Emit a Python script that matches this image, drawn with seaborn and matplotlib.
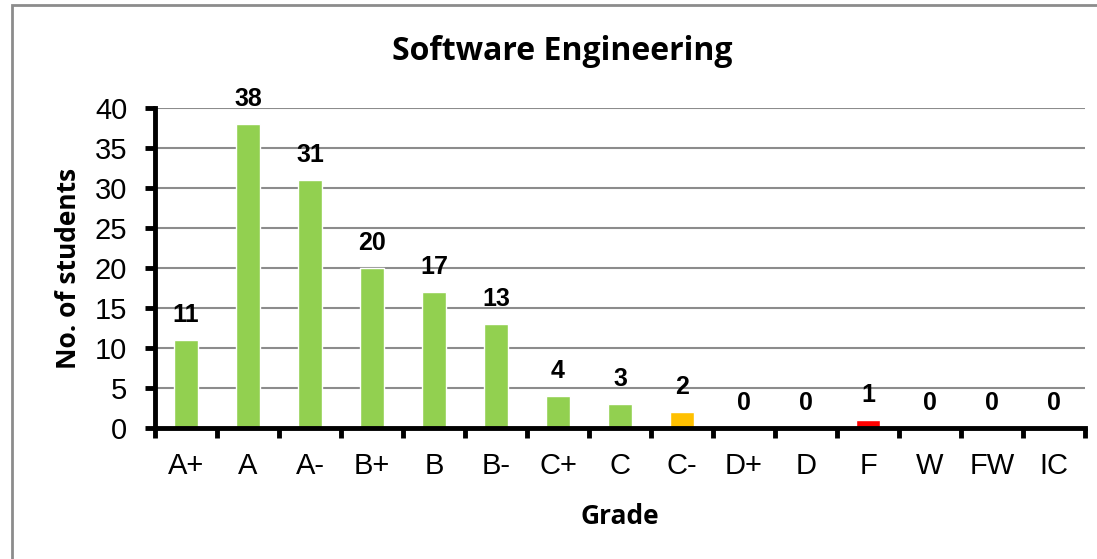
import matplotlib
matplotlib.use("Agg")
import matplotlib.pyplot as plt
import matplotlib.patches as mpatches
import seaborn as sns
import pandas as pd

# data
grades = ["A+", "A", "A-", "B+", "B", "B-", "C+", "C", "C-", "D+", "D", "F", "W", "FW", "IC"]
students = [11, 38, 31, 20, 17, 13, 4, 3, 2, 0, 0, 1, 0, 0, 0]
bar_colors = ["#92D050"] * 8 + ["#FFC000", "#92D050", "#92D050", "#FF0000", "#92D050", "#92D050", "#92D050"]

df = pd.DataFrame({"Grade": grades, "Students": students})

sns.set_theme(style="white")
plt.rcParams["font.family"] = ["Liberation Sans", "DejaVu Sans"]
plt.rcParams["text.color"] = "black"
plt.rcParams["axes.labelcolor"] = "black"

W, H = 1097, 559
fig = plt.figure(figsize=(W / 100, H / 100), dpi=100)
ax = fig.add_axes([155 / W, 1 - 428 / H, (1085 - 155) / W, (428 - 108) / H])

sns.barplot(
    data=df, x="Grade", y="Students", hue="Grade",
    palette=bar_colors, legend=False, width=0.4, saturation=1, ax=ax
)

ax.set_ylim(0, 40)
ax.set_xlim(-0.5, len(grades) - 0.5)
ax.set_yticks(range(0, 41, 5))
ax.yaxis.grid(True, color="#8C8C8C", linewidth=1.5)
ax.set_axisbelow(True)

# category ticks sit between bars, Excel style
ax.set_xticks([i - 0.5 for i in range(len(grades) + 1)], minor=True)
ax.tick_params(axis="x", which="major", bottom=False, length=0, pad=17, labelsize=21, labelcolor="black")
ax.tick_params(axis="x", which="minor", bottom=True, length=7, width=3.5, color="black", direction="out")
ax.tick_params(axis="y", left=True, length=7, width=3.5, color="black", direction="out",
               labelsize=21, pad=13, labelcolor="black")

for side in ["top", "right"]:
    ax.spines[side].set_visible(False)
for side in ["left", "bottom"]:
    ax.spines[side].set_visible(True)
    ax.spines[side].set_color("black")
    ax.spines[side].set_linewidth(3.5)

for container in ax.containers:
    ax.bar_label(container, fmt="%d", padding=9, fontsize=18, fontweight="bold", color="black")

lab_font = ["Open Sans", "DejaVu Sans"]
ax.set_xlabel("Grade", fontsize=19, fontweight="bold", family=lab_font, labelpad=17)
ax.set_ylabel("No. of students", fontsize=19, fontweight="bold", family=lab_font, labelpad=9)

fig.text(562 / W, 1 - 52 / H, "Software Engineering", ha="center", va="center",
         fontsize=23, fontweight="bold", family=lab_font)

# outer chart frame (only the top and left edges are visible in the crop)
fig.patches.append(mpatches.Rectangle(
    (12 / W, -0.1), 1.2, 1 - 5 / H + 0.1, transform=fig.transFigure,
    fill=False, edgecolor="#8C8C8C", linewidth=2))

fig.savefig("out.png", dpi=100, facecolor="white")
